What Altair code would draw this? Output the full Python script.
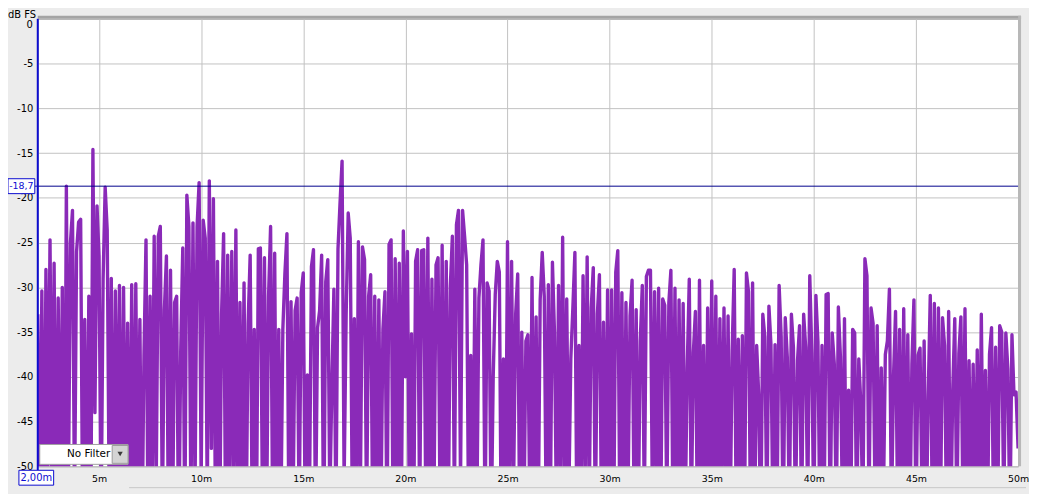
import altair as alt
import pandas as pd

# ---------------- data ----------------
T_START = 2.0   # ms, first sample
T_STEP = 0.1    # ms between samples

SEG_02 = [-33, -58, -30.4, -62, -28, -50, -24.7, -55, -27.3, -60,
          -31.2, -57, -30, -64, -18.7, -53, -25, -21.4, -55, -26,
          -22.7, -22.4, -58, -33.6, -60, -31, -56, -14.6, -44, -20.9,
          -26.5, -57, -29, -18.8, -23.6, -55, -29, -62, -30.4, -54,
          -29.8, -60, -30, -56, -34, -60, -29.7, -58, -29.6, -55]
SEG_07 = [-33.6, -60, -37.6, -24.7, -58, -31, -55, -24.3, -52, -24.3,
          -23.2, -56, -32.5, -26.5, -58, -28.1, -57, -31.7, -31, -60,
          -37, -25.6, -58, -19.7, -23.2, -55, -22.8, -53, -23.2, -18.3,
          -52, -22.5, -24.5, -54, -18.1, -48, -20.1, -56, -27.1, -60,
          -33, -24, -58, -26.4, -55, -26, -52, -23.6, -58, -31.7]
SEG_12 = [-52, -29.5, -58, -34, -26.4, -56, -34.7, -60, -25.7, -25.6,
          -54, -26.7, -58, -31, -23.2, -56, -26.2, -60, -34.7, -57,
          -34.7, -28.5, -24, -58, -31.6, -55, -32.6, -31.2, -56, -30.6,
          -28.4, -58, -39.8, -55, -27.7, -25.8, -57, -34.5, -32.6, -26.4,
          -60, -29.4, -26.9, -54, -41, -30.2, -56, -25.7, -20.6, -15.9]
SEG_17 = [-52, -33, -21.7, -24.5, -55, -33.5, -58, -24.9, -52, -25.5,
          -26.9, -56, -31, -28.6, -57, -31, -60, -31.4, -56, -34.7,
          -30.5, -58, -25.2, -24.7, -58, -26.8, -55, -27.3, -57, -23.7,
          -40, -26, -58, -35.2, -60, -27.1, -25.8, -56, -25.9, -25.8,
          -55, -24.5, -58, -29.1, -54, -27.5, -26.7, -56, -25.3, -58]
SEG_22 = [-27.1, -57, -29.9, -24.3, -55, -23, -21.4, -52, -21.4, -24.3,
          -27.5, -58, -37.6, -56, -30.2, -55, -31.2, -27.5, -24.7, -57,
          -29.5, -30.4, -58, -40, -30.8, -27.1, -28.3, -60, -38, -56,
          -24.9, -56, -27.1, -52, -33, -28.5, -58, -35, -57, -36,
          -35.3, -57, -28.9, -56, -33.3, -58, -31.4, -26.1, -31, -57]
SEG_27 = [-29.7, -55, -27.2, -35, -56, -29.8, -52, -24.4, -56, -31.3,
          -54, -38, -32.3, -26.1, -58, -36.5, -55, -28.7, -52, -26.6,
          -55, -32.3, -27.8, -57, -33, -28.6, -56, -33.9, -54, -30.3,
          -55, -30.3, -57, -28.3, -25.9, -56, -30.6, -58, -31.7, -54,
          -33.2, -29.2, -56, -32.5, -57, -36, -29.8, -55, -28.8, -28.1]
SEG_32 = [-28.1, -56, -30.5, -52, -30.1, -57, -31.3, -32, -55, -31.7,
          -28.1, -56, -30.1, -58, -31.4, -54, -31.8, -56, -39, -29.1,
          -56, -37.3, -32.7, -57, -29.2, -55, -36.5, -58, -32.3, -53,
          -29.3, -56, -31, -57, -33.5, -52, -32.3, -55, -33.2, -57,
          -37, -28, -56, -35.8, -54, -35.4, -58, -28.4, -30.5, -57]
SEG_37 = [-29.5, -57, -36.5, -42, -58, -33, -35.5, -56, -32.1, -36.4,
          -57, -36.4, -55, -29.8, -35.5, -58, -33.4, -37.8, -56, -33,
          -36.7, -56, -38.2, -34.3, -57, -33, -36.7, -55, -28.7, -37.3,
          -57, -30.9, -36.1, -58, -36.5, -56, -30.8, -30.7, -57, -35.1,
          -38.5, -56, -32.2, -37.7, -55, -33.5, -57, -41.5, -58, -34.7]
SEG_42 = [-35.1, -57, -38, -43, -56, -26.8, -28.7, -55, -32.3, -34,
          -55, -34.3, -57, -39, -55, -37.5, -36, -30.2, -56, -40,
          -32.7, -55, -34.7, -57, -32.4, -56, -35.3, -58, -38.6, -31.4,
          -57, -37.6, -36.8, -55, -36, -58, -42, -30.9, -56, -31.8,
          -57, -32.3, -56, -33.4, -36.5, -57, -32.7, -58, -41.5, -33.5]
SEG_47 = [-56, -37.4, -33.3, -55, -32.4, -57, -38.2, -56, -38.6, -55,
          -37, -56, -33, -55, -39.3, -57, -37.5, -34.5, -56, -36.7,
          -56, -34.3, -35, -55, -35.1, -39.1, -57, -35.3, -42, -41.7,
          -48]

SEGMENTS = [SEG_02, SEG_07, SEG_12, SEG_17, SEG_22, SEG_27, SEG_32, SEG_37, SEG_42, SEG_47]

X_TICKS = [5, 10, 15, 20, 25, 30, 35, 40, 45, 50]
Y_TICKS = [-50, -45, -40, -35, -30, -25, -20, -15, -10, -5]
Y_TOP = [0]
CURSOR_MS = [2.0]
CURSOR_MS_LABEL = ["2,00m"]
CURSOR_DB = [-18.7]
CURSOR_DB_LABEL = ["-18,7"]
Y_UNIT = ["dB FS"]
FILTER_LABEL = ["No Filter"]

# ---------------- tables ----------------
values = [v for seg in SEGMENTS for v in seg]
times = [round(T_START + i * T_STEP, 2) for i in range(len(values))]
ir = pd.DataFrame({"t": times, "db": values})
cursor = pd.DataFrame({"t": CURSOR_MS, "db": CURSOR_DB,
                       "tl": CURSOR_MS_LABEL, "dl": CURSOR_DB_LABEL})
top = pd.DataFrame({"db": Y_TOP, "lab": [str(v) for v in Y_TOP]})
unit = pd.DataFrame({"lab": Y_UNIT})
filt = pd.DataFrame({"lab": FILTER_LABEL})

# ---------------- styles ----------------
W, H = 988, 451
FONT = "DejaVu Sans"
PURPLE = "#8a2ab8"
NAVY = "#00008b"
BLUE = "#0c0cd0"
GRID = "#c2c2c2"

xscale = alt.Scale(domain=[2, 50], nice=False, zero=False)
yscale = alt.Scale(domain=[-50, 0], nice=False, zero=False)

AX_X = alt.Axis(values=X_TICKS, labelExpr="datum.value + 'm'", title=None,
                grid=True, gridColor=GRID, ticks=False, tickSize=0, domain=False,
                labelPadding=7, labelFont=FONT, labelFontSize=9.5,
                labelColor="#000000", labelFlush=False)
AX_Y = alt.Axis(values=Y_TICKS, labelExpr="'' + datum.value", title=None,
                grid=True, gridColor=GRID, ticks=False, tickSize=0, domain=False,
                labelPadding=5, labelFont=FONT, labelFontSize=10,
                labelColor="#000000")


def X():
    return alt.X("t:Q", scale=xscale, axis=AX_X)


def Y():
    return alt.Y("db:Q", scale=yscale, axis=AX_Y)


line = alt.Chart(ir).mark_line(
    color=PURPLE, strokeWidth=3.4, clip=True, strokeJoin="round"
).encode(x=X(), y=Y())

top_label = alt.Chart(top).mark_text(
    align="right", baseline="top", font=FONT, fontSize=10, color="#000000", dy=1
).encode(y=Y(), x=alt.value(-5), text="lab:N")

unit_label = alt.Chart(unit).mark_text(
    align="left", baseline="top", font=FONT, fontSize=10, color="#000000"
).encode(x=alt.value(-30), y=alt.value(-9), text="lab:N")

# plot frame shading (top and right)
shade_top = alt.Chart(unit).mark_rule(color="#a4a4a4", strokeWidth=3).encode(
    x=alt.value(0), x2=alt.value(W + 3), y=alt.value(-1.5))
shade_right = alt.Chart(unit).mark_rule(color="#b8b8b8", strokeWidth=3).encode(
    x=alt.value(W + 1.5), y=alt.value(-3), y2=alt.value(H))
scroll = alt.Chart(unit).mark_rule(color="#c8c8c8", strokeWidth=1).encode(
    x=alt.value(92), x2=alt.value(W + 8), y=alt.value(H + 21.5))

# cursors
hcur = alt.Chart(cursor).mark_rule(color=NAVY, strokeWidth=1).encode(
    y=Y(), x=alt.value(-3), x2=alt.value(W))
vcur = alt.Chart(cursor).mark_rule(color=BLUE, strokeWidth=2).encode(
    x=X(), y=alt.value(0), y2=alt.value(H + 4))

hbox = alt.Chart(cursor).mark_point(
    shape="M-1,-0.556H1V0.556H-1Z", size=729, filled=True, fill="white",
    stroke=BLUE, strokeWidth=1, opacity=1
).encode(y=Y(), x=alt.value(-16.5))
htext = alt.Chart(cursor).mark_text(
    font=FONT, fontSize=9.5, color=BLUE, align="center", baseline="middle"
).encode(y=Y(), x=alt.value(-16.5), text="dl:N")

vbox = alt.Chart(cursor).mark_point(
    shape="M-1,-0.4286H1V0.4286H-1Z", size=1225, filled=True, fill="white",
    stroke=BLUE, strokeWidth=1, opacity=1, xOffset=-1.5
).encode(x=X(), y=alt.value(H + 11.5))
vtext = alt.Chart(cursor).mark_text(
    font=FONT, fontSize=10, color=BLUE, align="center", baseline="middle", xOffset=-1.5
).encode(x=X(), y=alt.value(H + 11.5), text="tl:N")

# "No Filter" drop-down
fbox = alt.Chart(filt).mark_rect(fill="white", stroke="#a0a0a0", strokeWidth=1).encode(
    x=alt.value(2), x2=alt.value(91), y=alt.value(H - 22), y2=alt.value(H - 2))
fbtn = alt.Chart(filt).mark_rect(fill="#d4d4d4", stroke="#9a9a9a", strokeWidth=1).encode(
    x=alt.value(75), x2=alt.value(91), y=alt.value(H - 21), y2=alt.value(H - 3))
farrow = alt.Chart(filt).mark_point(
    shape="triangle-down", size=28, filled=True, color="#3a3a3a", opacity=1
).encode(x=alt.value(83), y=alt.value(H - 12.5))
ftext = alt.Chart(filt).mark_text(
    font=FONT, fontSize=10.5, color="#000000", align="right", baseline="middle"
).encode(x=alt.value(73), y=alt.value(H - 12), text="lab:N")

chart = alt.layer(
    line, shade_top, shade_right, scroll, hcur, vcur,
    hbox, htext, vbox, vtext, fbox, fbtn, farrow, ftext, top_label, unit_label
).properties(
    width=W, height=H,
    padding={"left": 30, "top": 9, "right": 11, "bottom": 26},
    autosize=alt.AutoSizeParams(type="none"),
    background="#ececec",
).configure_view(
    fill="white", stroke="#a8a8a8", strokeWidth=1
)

chart.save("out.html", embed_options={"renderer": "svg", "actions": False})
